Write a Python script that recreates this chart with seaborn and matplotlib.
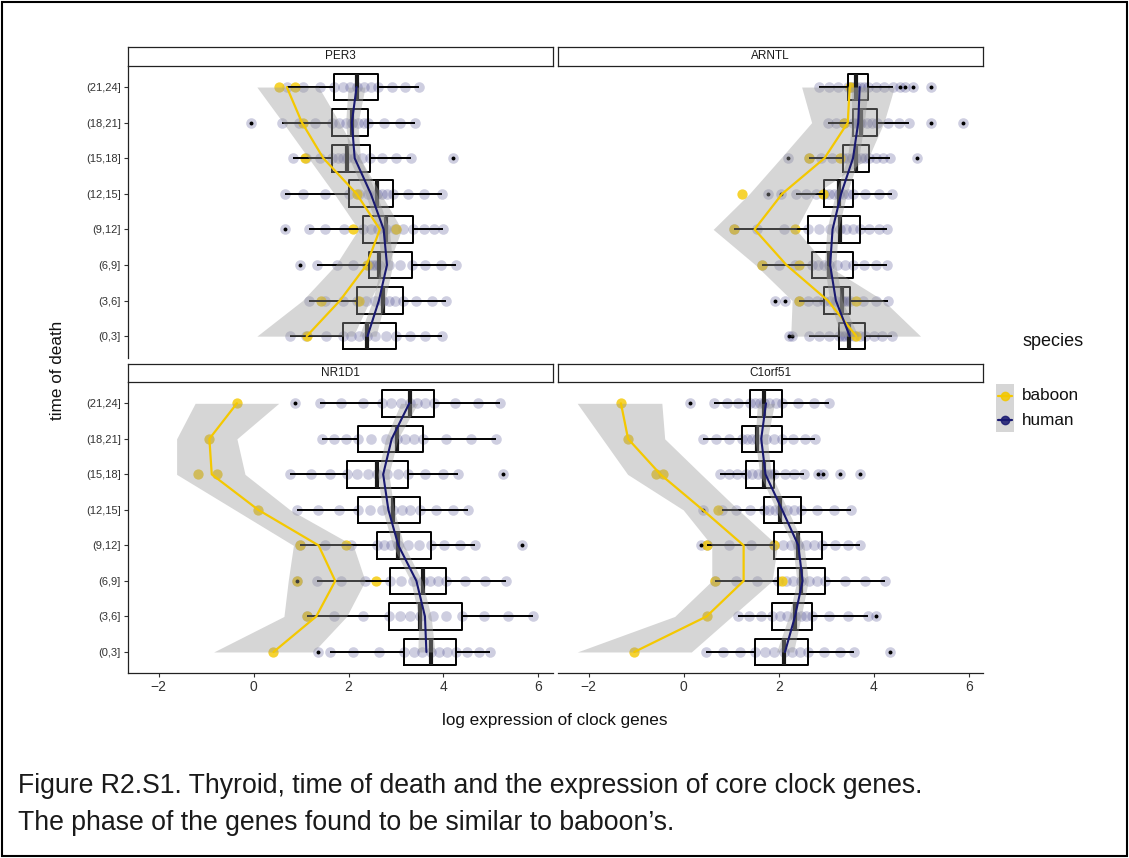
import matplotlib
matplotlib.use("Agg")
import pandas as pd
import matplotlib.pyplot as plt
import seaborn as sns
from matplotlib.patches import Rectangle
from matplotlib.lines import Line2D

# ---------------------------------------------------------------------------
# data: log expression of clock genes in thyroid, by time-of-death bin
# ---------------------------------------------------------------------------
BINS = ["(0,3]", "(3,6]", "(6,9]", "(9,12]", "(12,15]", "(15,18]", "(18,21]", "(21,24]"]
GENES = ["PER3", "ARNTL", "NR1D1", "C1orf51"]
X_TICKS = [-2, 0, 2, 4, 6]

# human samples (one list per time bin)
PER3_HUMAN = [
    [0.77, 1.10, 1.52, 1.89, 2.05, 2.22, 2.39, 2.55, 2.78, 3.00, 3.30, 3.62, 3.96],
    [1.16, 1.50, 1.88, 2.17, 2.36, 2.55, 2.72, 2.85, 2.98, 3.14, 3.42, 3.75, 4.06],
    [1.33, 1.75, 2.10, 2.43, 2.52, 2.58, 2.65, 2.85, 3.08, 3.33, 3.62, 3.95, 4.27],
    [1.16, 1.50, 1.90, 2.31, 2.48, 2.63, 2.79, 2.98, 3.15, 3.36, 3.58, 3.80, 3.99],
    [0.67, 1.05, 1.50, 2.00, 2.22, 2.42, 2.59, 2.70, 2.82, 2.93, 3.25, 3.60, 3.96],
    [0.84, 1.10, 1.40, 1.65, 1.78, 1.88, 1.97, 2.12, 2.28, 2.45, 2.70, 3.00, 3.31],
    [0.60, 0.95, 1.30, 1.65, 1.80, 1.95, 2.08, 2.20, 2.32, 2.42, 2.75, 3.08, 3.40],
    [0.70, 1.05, 1.40, 1.70, 1.88, 2.03, 2.17, 2.32, 2.48, 2.63, 2.92, 3.20, 3.49],
]
ARNTL_HUMAN = [
    [2.64, 2.85, 3.05, 3.26, 3.33, 3.40, 3.47, 3.58, 3.70, 3.81, 4.00, 4.18, 4.37],
    [2.43, 2.62, 2.80, 2.96, 3.08, 3.20, 3.32, 3.38, 3.44, 3.50, 3.78, 4.05, 4.30],
    [1.65, 2.00, 2.35, 2.69, 2.82, 2.94, 3.05, 3.22, 3.40, 3.57, 3.80, 4.05, 4.27],
    [1.05, 1.55, 2.10, 2.62, 2.85, 3.08, 3.28, 3.42, 3.56, 3.70, 3.90, 4.10, 4.27],
    [2.36, 2.58, 2.78, 2.96, 3.06, 3.16, 3.26, 3.36, 3.46, 3.56, 3.82, 4.10, 4.37],
    [2.64, 2.88, 3.12, 3.35, 3.44, 3.53, 3.62, 3.72, 3.81, 3.90, 4.05, 4.20, 4.33],
    [3.03, 3.20, 3.38, 3.56, 3.62, 3.68, 3.73, 3.85, 3.96, 4.07, 4.30, 4.52, 4.73],
    [2.85, 3.05, 3.25, 3.45, 3.51, 3.57, 3.63, 3.71, 3.80, 3.88, 4.05, 4.22, 4.41],
]
NR1D1_HUMAN = [
    [1.62, 2.10, 2.65, 3.17, 3.38, 3.55, 3.73, 3.90, 4.08, 4.27, 4.50, 4.75, 4.99],
    [1.12, 1.70, 2.30, 2.86, 3.08, 3.30, 3.50, 3.78, 4.05, 4.38, 4.85, 5.35, 5.88],
    [1.33, 1.85, 2.35, 2.88, 3.10, 3.35, 3.56, 3.72, 3.88, 4.06, 4.45, 4.88, 5.31],
    [0.97, 1.50, 2.05, 2.59, 2.75, 2.90, 3.05, 3.25, 3.48, 3.73, 4.02, 4.35, 4.66],
    [0.91, 1.35, 1.80, 2.21, 2.45, 2.70, 2.93, 3.12, 3.30, 3.50, 3.85, 4.20, 4.52],
    [0.77, 1.20, 1.60, 1.97, 2.18, 2.40, 2.60, 2.82, 3.05, 3.26, 3.62, 3.98, 4.31],
    [1.44, 1.70, 1.95, 2.21, 2.48, 2.78, 3.02, 3.20, 3.38, 3.57, 4.05, 4.58, 5.11],
    [1.40, 1.85, 2.30, 2.71, 2.90, 3.10, 3.29, 3.45, 3.62, 3.80, 4.25, 4.72, 5.18],
]
C1ORF51_HUMAN = [
    [0.46, 0.82, 1.18, 1.50, 1.70, 1.90, 2.11, 2.28, 2.45, 2.62, 2.95, 3.28, 3.58],
    [1.14, 1.38, 1.62, 1.86, 2.02, 2.18, 2.34, 2.46, 2.58, 2.70, 3.05, 3.45, 3.88],
    [0.66, 1.10, 1.55, 1.99, 2.15, 2.30, 2.46, 2.64, 2.80, 2.98, 3.40, 3.82, 4.23],
    [0.48, 0.95, 1.42, 1.90, 2.08, 2.25, 2.41, 2.58, 2.75, 2.91, 3.18, 3.45, 3.70],
    [0.80, 1.10, 1.40, 1.68, 1.80, 1.92, 2.02, 2.17, 2.32, 2.46, 2.80, 3.15, 3.52],
    [0.76, 0.95, 1.12, 1.31, 1.44, 1.56, 1.68, 1.75, 1.83, 1.90, 2.12, 2.32, 2.53],
    [0.41, 0.68, 0.95, 1.23, 1.33, 1.44, 1.54, 1.72, 1.90, 2.06, 2.30, 2.55, 2.77],
    [0.64, 0.90, 1.15, 1.40, 1.50, 1.60, 1.68, 1.80, 1.94, 2.07, 2.40, 2.75, 3.06],
]

# human samples flagged as outliers (beyond 1.5 IQR)
PER3_OUTLIERS = [[], [], [0.97], [0.66], [], [4.20], [-0.06], []]
ARNTL_OUTLIERS = [[2.21, 2.27], [1.92, 2.13], [], [], [1.78, 2.04], [2.20, 4.90],
                  [5.20, 5.88], [4.55, 4.65, 4.83, 5.19]]
NR1D1_OUTLIERS = [[1.35], [], [0.91], [5.66], [], [5.25], [], [0.88]]
C1ORF51_OUTLIERS = [[4.33], [4.04], [], [0.37], [0.40], [2.82, 2.92, 3.28, 3.70], [], [0.13]]

# baboon samples
PER3_BABOON = [[1.12], [1.42, 2.22], [2.38], [2.09, 3.01], [2.17], [1.09], [1.05], [0.53, 0.88]]
ARNTL_BABOON = [[3.63], [2.43, 3.63], [1.65, 2.42], [1.05, 2.34], [1.22, 2.92], [2.64, 3.28],
                [3.38], [3.49]]
NR1D1_BABOON = [[0.42], [1.12], [0.91, 2.58], [0.97, 1.95], [0.10], [-1.18, -0.77], [-0.93], [-0.35]]
C1ORF51_BABOON = [[-1.04], [0.48], [0.66, 2.07], [0.48, 1.90], [0.73], [-0.58, -0.44], [-1.17], [-1.32]]

# fitted trends and their confidence bands
PER3_BABOON_FIT = [1.12, 1.82, 2.38, 2.66, 2.17, 1.47, 1.02, 0.70]
PER3_BABOON_LO = [0.07, 1.03, 1.73, 2.21, 1.70, 1.16, 0.62, 0.07]
PER3_BABOON_HI = [2.10, 2.45, 2.84, 3.12, 2.68, 2.24, 1.81, 1.37]
ARNTL_BABOON_FIT = [3.63, 3.03, 2.16, 1.49, 2.07, 2.96, 3.45, 3.49]
ARNTL_BABOON_LO = [2.25, 2.28, 1.51, 0.62, 1.38, 2.04, 2.69, 2.48]
ARNTL_BABOON_HI = [4.98, 4.20, 3.00, 2.36, 2.76, 3.88, 4.21, 4.43]
NR1D1_BABOON_FIT = [0.42, 1.32, 1.72, 1.37, 0.10, -0.88, -0.93, -0.35]
NR1D1_BABOON_LO = [-0.84, 0.64, 0.73, 0.84, -0.39, -1.62, -1.62, -1.23]
NR1D1_BABOON_HI = [1.26, 1.96, 2.35, 2.10, 0.77, -0.18, -0.35, 0.53]
C1ORF51_BABOON_FIT = [-1.04, 0.48, 1.26, 1.26, 0.40, -0.49, -1.17, -1.32]
C1ORF51_BABOON_LO = [-2.24, -0.19, 0.59, 0.59, -0.01, -1.18, -1.71, -2.24]
C1ORF51_BABOON_HI = [0.16, 1.01, 1.86, 1.97, 1.15, 0.37, -0.40, -0.46]

PER3_HUMAN_FIT = [2.40, 2.64, 2.81, 2.74, 2.47, 2.13, 2.07, 2.17]
ARNTL_HUMAN_FIT = [3.49, 3.20, 3.08, 3.13, 3.31, 3.56, 3.67, 3.70]
NR1D1_HUMAN_FIT = [3.64, 3.61, 3.43, 3.05, 2.84, 2.73, 2.91, 3.28]
C1ORF51_HUMAN_FIT = [2.13, 2.34, 2.50, 2.41, 2.07, 1.72, 1.63, 1.73]
HUMAN_FIT_SE = [0.18, 0.13, 0.12, 0.12, 0.12, 0.12, 0.13, 0.18]

# ---------------------------------------------------------------------------
# assemble long-form tables
# ---------------------------------------------------------------------------
HUMAN = {"PER3": PER3_HUMAN, "ARNTL": ARNTL_HUMAN, "NR1D1": NR1D1_HUMAN, "C1orf51": C1ORF51_HUMAN}
OUTLIERS = {"PER3": PER3_OUTLIERS, "ARNTL": ARNTL_OUTLIERS, "NR1D1": NR1D1_OUTLIERS,
            "C1orf51": C1ORF51_OUTLIERS}
BABOON = {"PER3": PER3_BABOON, "ARNTL": ARNTL_BABOON, "NR1D1": NR1D1_BABOON, "C1orf51": C1ORF51_BABOON}
BABOON_FIT = {"PER3": (PER3_BABOON_FIT, PER3_BABOON_LO, PER3_BABOON_HI),
              "ARNTL": (ARNTL_BABOON_FIT, ARNTL_BABOON_LO, ARNTL_BABOON_HI),
              "NR1D1": (NR1D1_BABOON_FIT, NR1D1_BABOON_LO, NR1D1_BABOON_HI),
              "C1orf51": (C1ORF51_BABOON_FIT, C1ORF51_BABOON_LO, C1ORF51_BABOON_HI)}
HUMAN_FIT = {"PER3": PER3_HUMAN_FIT, "ARNTL": ARNTL_HUMAN_FIT, "NR1D1": NR1D1_HUMAN_FIT,
             "C1orf51": C1ORF51_HUMAN_FIT}


def long_form(per_bin):
    rows = [(i + 1, v) for i, vals in enumerate(per_bin) for v in vals]
    return pd.DataFrame(rows, columns=["pos", "value"])


POS = list(range(1, len(BINS) + 1))

# ---------------------------------------------------------------------------
# styling
# ---------------------------------------------------------------------------
sns.set_theme(style="white")
plt.rcParams["font.family"] = ["Liberation Sans", "DejaVu Sans"]

GOLD = "#F4C800"
NAVY = "#191970"
BAND = "#999999"
TXT = "#333333"

W, H = 1129, 858
fig = plt.figure(figsize=(W / 100, H / 100), dpi=100)
fig.patch.set_facecolor("white")


def px_axes(l, t, r, b):
    return fig.add_axes([l / W, 1 - b / H, (r - l) / W, (b - t) / H])


PANELS = {
    "PER3": (127.7, 65.7, 552.7, 357.5),
    "ARNTL": (557.7, 65.7, 983.3, 357.5),
    "NR1D1": (127.7, 382.0, 552.7, 673.3),
    "C1orf51": (557.7, 382.0, 983.3, 673.3),
}

for gene in GENES:
    l, t, r, b = PANELS[gene]
    ax = px_axes(l, t, r, b)
    hum = long_form(HUMAN[gene])
    out = long_form(OUTLIERS[gene])
    bab = long_form(BABOON[gene])
    fit, lo, hi = BABOON_FIT[gene]
    hfit = HUMAN_FIT[gene]

    # individual samples
    sns.scatterplot(data=pd.concat([hum, out]), x="value", y="pos", color=NAVY, alpha=0.21,
                    s=58, linewidth=0, legend=False, ax=ax, zorder=2)
    sns.scatterplot(data=bab, x="value", y="pos", color=GOLD, alpha=0.8, s=55,
                    linewidth=0, legend=False, ax=ax, zorder=3)

    # human distributions per bin
    sns.boxplot(data=hum, x="value", y="pos", orient="y", native_scale=True, fill=False,
                color="black", linewidth=1.4, width=0.75, whis=1.5, showcaps=False,
                showfliers=False, medianprops=dict(linewidth=3.0, color="#1a1a1a"),
                ax=ax, zorder=4)
    sns.scatterplot(data=out, x="value", y="pos", color="black", s=8, linewidth=0,
                    legend=False, ax=ax, zorder=5)

    # trend bands and lines
    ax.fill_betweenx(POS, lo, hi, color=BAND, alpha=0.4, linewidth=0, zorder=6)
    ax.fill_betweenx(POS, [f - s for f, s in zip(hfit, HUMAN_FIT_SE)],
                     [f + s for f, s in zip(hfit, HUMAN_FIT_SE)],
                     color=BAND, alpha=0.4, linewidth=0, zorder=6)
    sns.lineplot(x=fit, y=POS, orient="y", sort=True, estimator=None, color=GOLD,
                 linewidth=1.6, ax=ax, zorder=7)
    sns.lineplot(x=hfit, y=POS, orient="y", sort=True, estimator=None, color=NAVY,
                 linewidth=1.5, ax=ax, zorder=8)

    ax.set_xlim(-2.65, 6.30)
    ax.set_ylim(0.4, 8.6)
    ax.set_xticks(X_TICKS)
    ax.set_xticklabels([f"{v}" if v >= 0 else f"\u2212{-v}" for v in X_TICKS])
    ax.set_yticks(POS)
    ax.set_yticklabels(BINS)
    ax.set_xlabel("")
    ax.set_ylabel("")
    ax.grid(False)
    for side in ("top", "right"):
        ax.spines[side].set_visible(False)
    for side in ("left", "bottom"):
        ax.spines[side].set_color("#222222")
        ax.spines[side].set_linewidth(0.9)
    ax.tick_params(axis="y", length=3, width=0.8, color="#333333", labelsize=8,
                   labelcolor=TXT, pad=2, left=True)
    ax.tick_params(axis="x", length=3, width=0.8, color="#333333", labelsize=10,
                   labelcolor=TXT, pad=2, bottom=True)
    if gene in ("PER3", "ARNTL"):
        ax.spines["bottom"].set_visible(False)
        ax.tick_params(axis="x", bottom=False, labelbottom=False)
    if gene in ("ARNTL", "C1orf51"):
        ax.spines["left"].set_visible(False)
        ax.tick_params(axis="y", left=False, labelleft=False)

    # facet strip
    sax = px_axes(l, t - 18.5, r, t)
    sax.set_xticks([])
    sax.set_yticks([])
    sax.set_facecolor("white")
    for sp in sax.spines.values():
        sp.set_visible(True)
        sp.set_color("#222222")
        sp.set_linewidth(0.9)
    sax.text(0.5, 0.5, gene, ha="center", va="center", fontsize=8.5, color="#1a1a1a",
             transform=sax.transAxes)

# axis titles
fig.text(555 / W, 1 - 720 / H, "log expression of clock genes", ha="center", va="center",
         fontsize=12.3, color="#111111")
fig.text(57 / W, 1 - 370 / H, "time of death", ha="center", va="center", rotation=90,
         fontsize=12.3, color="#111111")

# legend
fig.text(1022 / W, 1 - 342 / H, "species", ha="left", va="center", fontsize=13, color="#111111")
fig.patches.append(Rectangle((996 / W, 1 - 432 / H), 18 / W, 48 / H, transform=fig.transFigure,
                             facecolor="#D6D6D6", edgecolor="none"))
for name, colr, yy in (("baboon", GOLD, 396), ("human", NAVY, 420)):
    fig.lines.append(Line2D([998 / W, 1012 / W], [1 - yy / H, 1 - yy / H],
                            transform=fig.transFigure, color=colr, linewidth=1.6))
    fig.lines.append(Line2D([1005 / W], [1 - yy / H], transform=fig.transFigure, marker="o",
                            markersize=6, color=colr, alpha=0.85, linestyle="none"))
    fig.text(1022 / W, 1 - yy / H, name, ha="left", va="center", fontsize=12.3, color="#111111")

# caption
fig.text(18 / W, 1 - 786 / H,
         "Figure R2.S1. Thyroid, time of death and the expression of core clock genes.",
         ha="left", va="center", fontsize=19.2, color="#1a1a1a")
fig.text(18 / W, 1 - 823 / H, "The phase of the genes found to be similar to baboon\u2019s.",
         ha="left", va="center", fontsize=19.2, color="#1a1a1a")

# frame around the figure
fig.patches.append(Rectangle((2 / W, 2 / H), 1125 / W, 854 / H, transform=fig.transFigure,
                             facecolor="none", edgecolor="black", linewidth=1.5))

fig.savefig("out.png", dpi=100)
